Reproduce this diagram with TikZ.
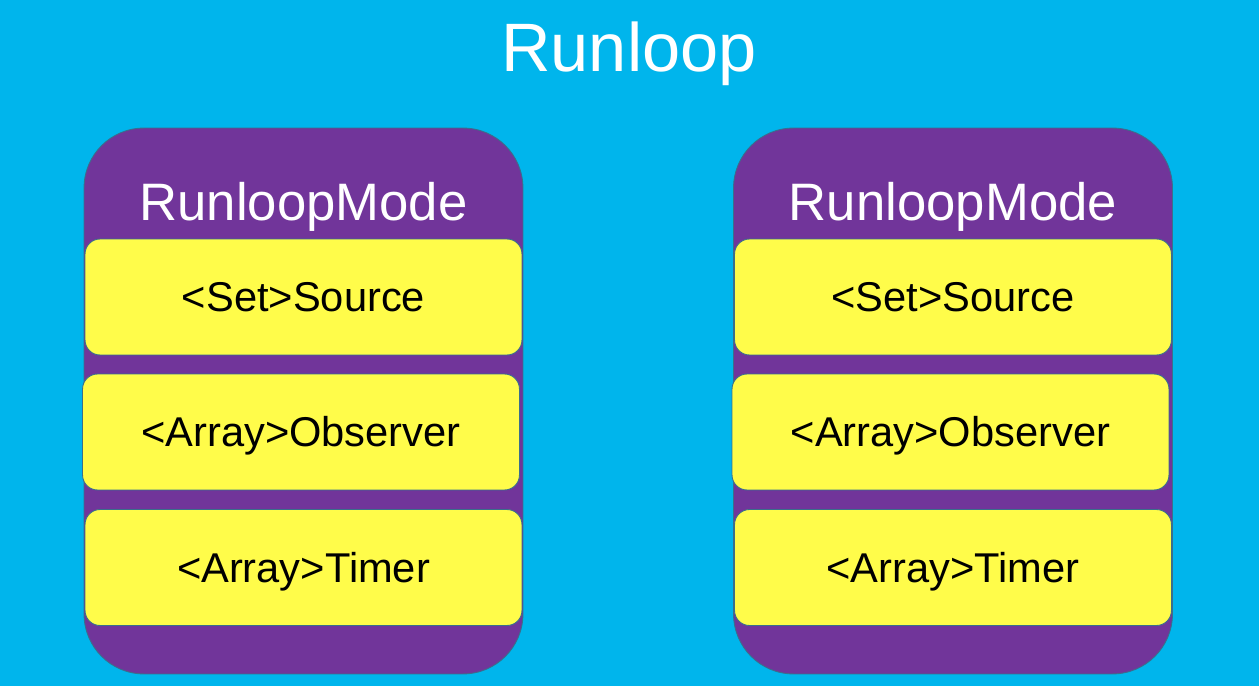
\documentclass[tikz,border=0pt]{standalone}
\usepackage{fontspec}
\setmainfont{Liberation Sans}
\usetikzlibrary{positioning}
\definecolor{csky}{HTML}{00B5EC}
\definecolor{cplum}{HTML}{71359A}
\definecolor{clemon}{HTML}{FFFC4A}
\definecolor{cedge}{HTML}{3A6F8C}

\begin{document}
\begin{tikzpicture}[
  x=0.02cm, y=-0.02cm,
  modebox/.style={
    rectangle, rounded corners=1.2cm, draw=cedge, fill=cplum,
    line width=0.5pt, minimum width=8.78cm, minimum height=10.92cm, inner sep=0pt
  },
  itembox/.style={
    rectangle, rounded corners=0.3cm, draw=cedge, fill=clemon,
    line width=0.5pt, minimum width=8.74cm, minimum height=2.32cm, inner sep=0pt,
    font=\fontsize{23.7}{26}\selectfont, text height=17pt, text depth=0pt
  },
  modelabel/.style={white, font=\fontsize{30}{33}\selectfont, text height=21.5pt, text depth=0pt, inner sep=0pt}
]

% ============================================================
% background and frame
\fill[csky] (0,0) rectangle (1259,686);
\useasboundingbox (0,0) rectangle (1259,686);

\node[white, font=\fontsize{39}{42}\selectfont, text height=28pt, text depth=0pt, inner sep=0pt]
  (title) at (629, 47) {Runloop};

% ============================================================
% two modes, each holding source / observer / timer
\foreach \m/\cx in {A/303.5, B/953} {
  \node[modebox] (mode\m) at (\cx, 401) {};
  \node[modelabel] (modelabel\m) at (\cx, 202) {RunloopMode};
  \node[itembox] (source\m)   at (\cx, 297)    {<Set>Source};
  \node[itembox] (observer\m) at (\cx-2.5, 432) {<Array>Observer};
  \node[itembox] (timer\m)    at (\cx, 567.5)  {<Array>Timer};
}

\end{tikzpicture}
\end{document}
